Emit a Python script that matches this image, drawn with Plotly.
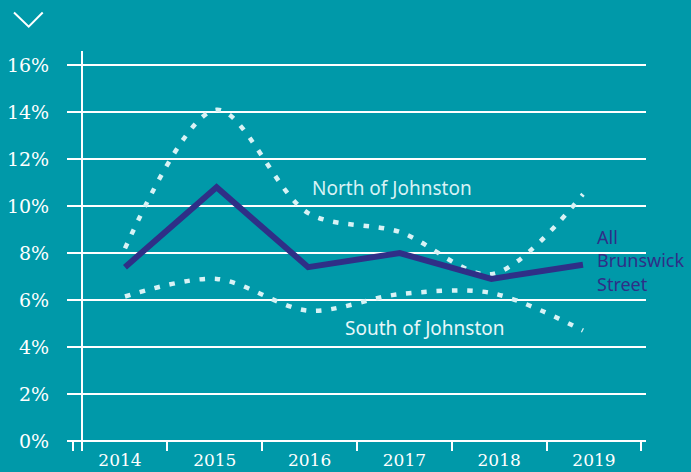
import plotly.graph_objects as go

# ---- data ----
years = [2014, 2015, 2016, 2017, 2018, 2019]
year_labels = ["2014", "2015", "2016", "2017", "2018", "2019"]
all_brunswick = [7.4, 10.8, 7.4, 8.0, 6.9, 7.5]
north_johnston = [8.2, 14.1, 9.7, 8.9, 7.1, 10.5]
south_johnston = [6.15, 6.9, 5.55, 6.25, 6.3, 4.7]
y_ticks = [0, 2, 4, 6, 8, 10, 12, 14, 16]
y_tick_labels = [f"{v}%" for v in y_ticks]

# ---- style ----
BG = "#0099A9"
NAVY = "#2F2F87"
DOT = "#D8F2F5"
W, H = 691, 472
ML, MR, MT, MB = 67, 45, 51, 21
PW, PH = W - ML - MR, H - MT - MB

def px_x(px):
    return (px - ML) / PW

def px_y(py):
    return (H - MB - py) / PH

fig = go.Figure()

dot_line = dict(color=DOT, width=4.5, dash="5.5px,9.8px", shape="spline", smoothing=0.9)
fig.add_trace(go.Scatter(x=years, y=north_johnston, mode="lines", line=dot_line,
                         name="North of Johnston", hoverinfo="skip"))
fig.add_trace(go.Scatter(x=years, y=south_johnston, mode="lines", line=dot_line,
                         name="South of Johnston", hoverinfo="skip"))
fig.add_trace(go.Scatter(x=years, y=all_brunswick, mode="lines",
                         line=dict(color=NAVY, width=6),
                         name="All Brunswick Street", hoverinfo="skip"))
# category axis carrying the year labels
fig.add_trace(go.Scatter(x=year_labels, y=[0] * len(year_labels), xaxis="x2",
                         mode="markers", marker=dict(opacity=0), hoverinfo="skip",
                         showlegend=False))

sans = "Noto Sans"
annos = [
    dict(x=2016.02, y=10.77, text="North of Johnston", font=dict(family=sans, size=19, color=DOT)),
    dict(x=2016.38, y=4.81, text="South of Johnston", font=dict(family=sans, size=19, color="#E8F7F9")),
    dict(x=2019.13, y=(441 - 260) / 23.5, text="All<br>Brunswick<br>Street", align="left",
         font=dict(family=sans, size=18, color=NAVY)),
]
for a in annos:
    a.update(xref="x", yref="y", xanchor="left", yanchor="middle", showarrow=False)

# chevron at top-left
p1 = (px_x(14), px_y(12.5))
p2 = (px_x(28.7), px_y(26.7))
p3 = (px_x(42.7), px_y(12.5))
chevron = dict(type="path", xref="paper", yref="paper",
               path=f"M {p1[0]} {p1[1]} L {p2[0]} {p2[1]} L {p3[0]} {p3[1]}",
               line=dict(color="white", width=2))

fig.update_layout(
    width=W, height=H,
    margin=dict(l=ML, r=MR, t=MT, b=MB, autoexpand=False),
    paper_bgcolor=BG, plot_bgcolor=BG,
    showlegend=False,
    annotations=annos,
    shapes=[chevron],
    xaxis=dict(range=[2013.367, 2019.688], visible=False, showgrid=False, zeroline=False,
               automargin=False),
    xaxis2=dict(type="category", overlaying="x", anchor="y", side="bottom",
                categoryorder="array", categoryarray=year_labels,
                range=[-0.559, 5.549], tickson="boundaries", ticks="inside",
                ticklen=10, tickwidth=1.5, tickcolor="white", showgrid=False,
                showline=False, zeroline=False, automargin=False,
                ticklabelstandoff=-3,
                tickfont=dict(family="DejaVu Serif", size=17, color="white")),
    yaxis=dict(range=[-0.4255, 16.6], tickmode="array", tickvals=y_ticks,
               ticktext=y_tick_labels, showgrid=True, gridcolor="white", gridwidth=1.5,
               zeroline=False, showline=True, linecolor="white", linewidth=1.5,
               anchor="free", position=px_x(81.7), ticks="outside", ticklen=28,
               tickcolor="rgba(0,0,0,0)", automargin=False,
               tickfont=dict(family="DejaVu Serif", size=19, color="white")),
)

fig.write_html("out.html", config={"displayModeBar": False})

# remove the default page margin so the figure sits at the window's top-left corner
with open("out.html", encoding="utf-8") as f:
    html = f.read()
html = html.replace("<head>", "<head><style>html,body{margin:0;padding:0;}</style>", 1)
with open("out.html", "w", encoding="utf-8") as f:
    f.write(html)
